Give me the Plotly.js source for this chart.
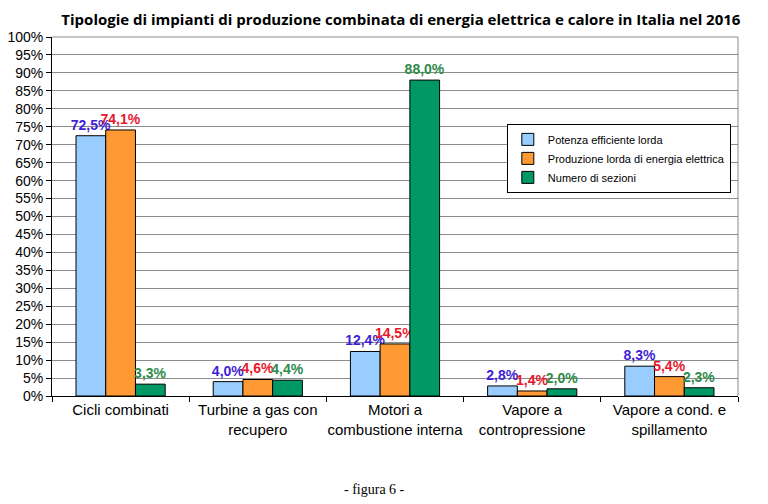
<!DOCTYPE html>
<html><head><meta charset="utf-8">
<script src="https://cdn.plot.ly/plotly-3.0.1.min.js"></script>
<style>html,body{margin:0;padding:0;background:#fff}#chart{width:768px;height:504px}</style>
</head><body><div id="chart"></div>
<script>
const categories = ["Cicli combinati", "Turbine a gas con<br>recupero", "Motori a<br>combustione interna", "Vapore a<br>contropressione", "Vapore a cond. e<br>spillamento"];
const seriesNames = ["Potenza efficiente lorda", "Produzione lorda di energia elettrica", "Numero di sezioni"];
const potenza = [72.5, 4.0, 12.4, 2.8, 8.3];
const produzione = [74.1, 4.6, 14.5, 1.4, 5.4];
const sezioni = [3.3, 4.4, 88.0, 2.0, 2.3];
const yTickVals = [0,5,10,15,20,25,30,35,40,45,50,55,60,65,70,75,80,85,90,95,100];
const yTickText = ["0%","5%","10%","15%","20%","25%","30%","35%","40%","45%","50%","55%","60%","65%","70%","75%","80%","85%","90%","95%","100%"];

const fillColors = ["#99CCFF", "#FF9933", "#009966"];
const labelColors = ["#3F1FD6", "#E8172C", "#2E8B4A"];
const allSeries = [potenza, produzione, sezioni];
const fmt = v => v.toFixed(1).replace(".", ",") + "%";

const traces = allSeries.map((vals, i) => ({
  type: "bar",
  name: seriesNames[i],
  x: categories,
  y: vals,
  text: vals.map(fmt),
  textposition: "outside",
  constraintext: "none",
  cliponaxis: false,
  textfont: {family: "Liberation Sans, Arial, sans-serif", size: 14, color: labelColors[i], weight: "bold"},
  marker: {color: fillColors[i], line: {color: "#000", width: 1}},
  hoverinfo: "skip"
}));

const layout = {
  width: 768, height: 504,
  margin: {l: 52, r: 30, t: 37, b: 108},
  paper_bgcolor: "#fff", plot_bgcolor: "#fff",
  barmode: "group", bargap: 0.35, bargroupgap: 0,
  title: {text: "Tipologie di impianti di produzione combinata di energia elettrica e calore in Italia nel 2016",
    font: {family: "Open Sans, sans-serif", size: 15, color: "#000", weight: "bold"},
    x: 0.522, xanchor: "center", y: 0.96, yanchor: "middle"},
  xaxis: {type: "category", showline: true, linecolor: "#000", linewidth: 1, mirror: false,
    ticks: "outside", tickson: "boundaries", ticklen: 5, tickcolor: "#000", tickangle: 0,
    tickfont: {family: "Liberation Sans Narrow, Arial Narrow, sans-serif", size: 15, color: "#000"},
    showgrid: false, fixedrange: true},
  yaxis: {range: [0, 100], tickmode: "array", tickvals: yTickVals, ticktext: yTickText, showline: true, linecolor: "#000", linewidth: 1,
    ticks: "outside", ticklen: 5, tickcolor: "#000",
    tickfont: {family: "Liberation Sans, Arial, sans-serif", size: 14, color: "#000"},
    showgrid: true, gridcolor: "#8c8c8c", gridwidth: 1, zeroline: false, fixedrange: true},
  legend: {x: 0.663, y: 0.758, xanchor: "left", yanchor: "top", bgcolor: "#fff", bordercolor: "#000", borderwidth: 1,
    font: {family: "Liberation Sans, Arial, sans-serif", size: 11, color: "#000"}, tracegroupgap: 0, itemwidth: 30},
  shapes: [
    {type: "line", xref: "paper", yref: "paper", x0: 0, x1: 1, y0: 1, y1: 1, line: {color: "#8c8c8c", width: 1}},
    {type: "line", xref: "paper", yref: "paper", x0: 1, x1: 1, y0: 0, y1: 1, line: {color: "#8c8c8c", width: 1}}
  ],
  annotations: [
    {text: "- figura 6 -", xref: "paper", yref: "paper", x: 0.47, y: -0.26, xanchor: "center", yanchor: "middle", showarrow: false,
     font: {family: "Liberation Serif, serif", size: 14, color: "#000"}}
  ],
  showlegend: true
};

Plotly.newPlot("chart", traces, layout, {displayModeBar: false, staticPlot: true});
</script>
</body></html>
